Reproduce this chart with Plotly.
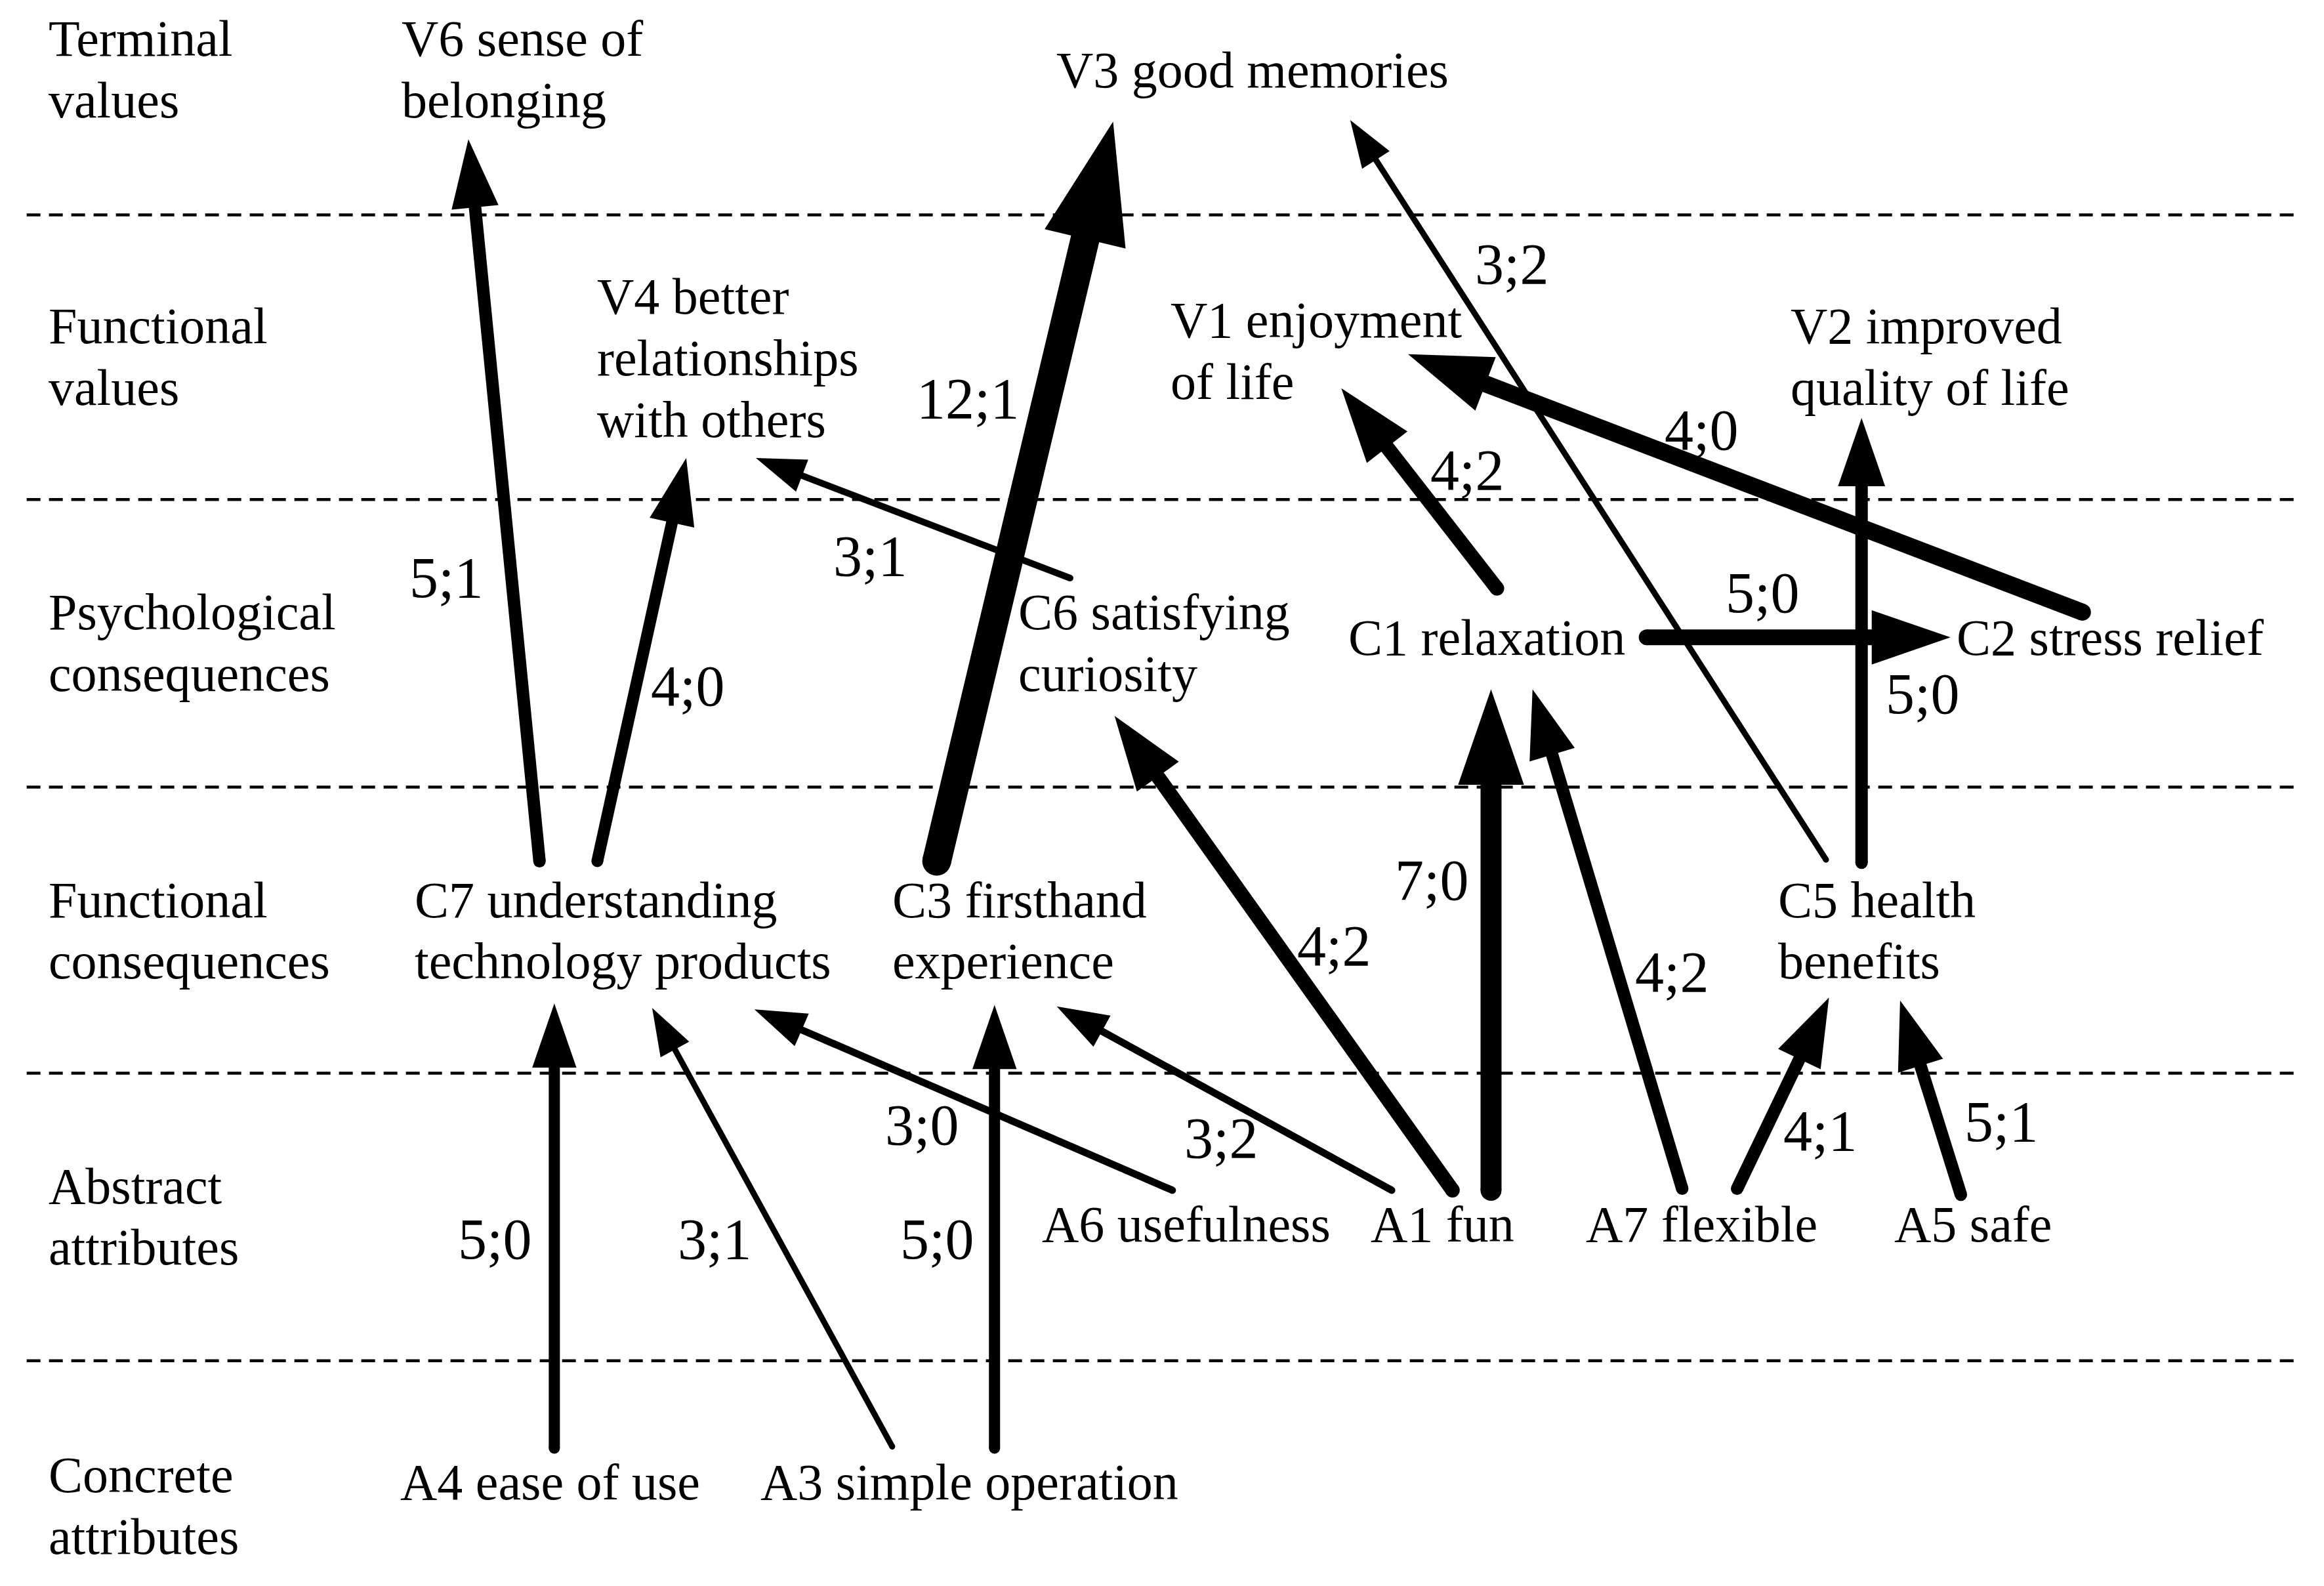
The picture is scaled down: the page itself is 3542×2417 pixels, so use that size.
import math
import plotly.graph_objects as go

# ---------------- data ----------------
level_names = [
    "Terminal\nvalues",
    "Functional\nvalues",
    "Psychological\nconsequences",
    "Functional\nconsequences",
    "Abstract\nattributes",
    "Concrete\nattributes",
]

node_codes = ["V6", "V3", "V4", "V1", "V2",
              "C6", "C1", "C2", "C7", "C3", "C5",
              "A6", "A1", "A7", "A5", "A4", "A3"]
node_names = ["sense of\nbelonging", "good memories",
              "better\nrelationships\nwith others", "enjoyment\nof life",
              "improved\nquality of life",
              "satisfying\ncuriosity", "relaxation", "stress relief",
              "understanding\ntechnology products", "firsthand\nexperience",
              "health\nbenefits",
              "usefulness", "fun", "flexible", "safe",
              "ease of use", "simple operation"]

edge_from = ["C7", "C7", "C3", "C6", "C1", "C2", "C5", "C1", "C5",
             "A1", "A1", "A7", "A6", "A1", "A7", "A5", "A4", "A3", "A3"]
edge_to = ["V6", "V4", "V3", "V4", "V1", "V1", "V3", "C2", "V2",
           "C6", "C1", "C1", "C7", "C3", "C5", "C5", "C7", "C7", "C3"]
direct_links = [5, 4, 12, 3, 4, 4, 3, 5, 5, 4, 7, 4, 3, 3, 4, 5, 5, 3, 5]
indirect_links = [1, 0, 1, 1, 2, 0, 2, 0, 0, 2, 0, 2, 0, 2, 1, 1, 0, 1, 0]

# ---------------- layout (drawing units, 1568 x 1070 canvas) ----------------
W_PX, H_PX = 3542, 2417
XMAX, YMAX = 1568, 1070
SCALE = W_PX / XMAX           # screen px per drawing unit
PAGE_PAD = 8 / SCALE          # body margin of the html page
LINE_GAP = 41.5
FONT = "Liberation Serif"
TEXT_SIZE = 78
LABEL_SIZE = 88

level_pos = [(32, 26), (32, 220), (32, 413), (32, 607), (32, 800), (32, 995)]
tier_lines = [145, 337, 531, 724, 918]

# left edge of text, y of first line
node_pos = {
    "V6": (270, 26), "V3": (712, 47), "V4": (402, 200), "V1": (789, 216),
    "V2": (1207, 220), "C6": (686, 413), "C1": (909, 430), "C2": (1319, 430),
    "C7": (279, 607), "C3": (601, 607), "C5": (1199, 607),
    "A6": (702, 826), "A1": (924, 826), "A7": (1069, 826), "A5": (1277, 826),
    "A4": (269, 1000), "A3": (512, 1000),
}

# tail point, arrow tip, label centre, stroke width (px) for each edge in order
edge_geom = [
    ((364, 581), (316, 94), (301, 390), 19),
    ((403, 581), (463, 309), (464, 463), 18),
    ((632, 581), (751, 82), (653, 269), 44),
    ((722, 390), (510, 309), (587, 375), 10),
    ((1010, 397), (905, 262), (990, 317), 22),
    ((1405, 413), (950, 239), (1148, 290), 26),
    ((1232, 580), (911, 81), (1020, 178), 9),
    ((1111, 430), (1316, 430), (1189, 400), 24),
    ((1256, 582), (1256, 282), (1297, 468), 19),
    ((980, 803), (752, 483), (900, 638), 22),
    ((1006, 803), (1006, 465), (966, 594), 32),
    ((1135, 802), (1034, 465), (1128, 656), 19),
    ((791, 803), (509, 681), (622, 759), 11),
    ((939, 803), (713, 679), (824, 768), 11),
    ((1172, 802), (1234, 673), (1228, 763), 19),
    ((1323, 806), (1282, 675), (1350, 757), 19),
    ((374, 977), (374, 677), (334, 836), 17),
    ((602, 976), (440, 680), (482, 836), 9),
    ((671, 977), (671, 678), (632, 836), 17),
]

fig = go.Figure()

# dashed tier separators
xs, ys = [], []
for y in tier_lines:
    xs += [18, 1550, None]
    ys += [y, y, None]
fig.add_trace(go.Scatter(x=xs, y=ys, mode="lines", hoverinfo="skip",
                         line=dict(color="black", width=4.5, dash="21px,13px")))

# edges
annotations = []
for k in range(len(edge_from)):
    (tx, ty), (hx, hy), (lx, ly), lw = edge_geom[k]
    dx, dy = hx - tx, hy - ty
    d = math.hypot(dx, dy)
    ux, uy = dx / d, dy / d
    nx, ny = -uy, ux
    head_w = (2.2 * lw + 30) / SCALE
    head_l = 1.45 * head_w
    bx, by = hx - head_l * ux, hy - head_l * uy
    ex, ey = hx - 0.75 * head_l * ux, hy - 0.75 * head_l * uy
    fig.add_trace(go.Scatter(x=[tx, ex], y=[ty, ey], mode="lines", hoverinfo="skip",
                             line=dict(color="black", width=lw)))
    fig.add_trace(go.Scatter(x=[tx], y=[ty], mode="markers", hoverinfo="skip",
                             marker=dict(color="black", size=lw, line=dict(width=0))))
    fig.add_trace(go.Scatter(
        x=[hx, bx + nx * head_w / 2, bx - nx * head_w / 2, hx],
        y=[hy, by + ny * head_w / 2, by - ny * head_w / 2, hy],
        mode="lines", fill="toself", fillcolor="black", hoverinfo="skip",
        line=dict(color="black", width=0)))
    annotations.append(dict(
        x=lx, y=ly, text=f"{direct_links[k]};{indirect_links[k]}", showarrow=False,
        xanchor="center", yanchor="middle",
        font=dict(family=FONT, size=LABEL_SIZE, color="black")))


def add_text(x, y0, text):
    for i, line in enumerate(text.split("\n")):
        annotations.append(dict(
            x=x, y=y0 + i * LINE_GAP, text=line, showarrow=False,
            xanchor="left", yanchor="middle",
            font=dict(family=FONT, size=TEXT_SIZE, color="black")))


for (x, y), name in zip(level_pos, level_names):
    add_text(x, y, name)

for code, name in zip(node_codes, node_names):
    x, y = node_pos[code]
    add_text(x, y, code + " " + name)

fig.update_layout(
    width=W_PX, height=H_PX,
    margin=dict(l=0, r=0, t=0, b=0),
    paper_bgcolor="white", plot_bgcolor="white",
    showlegend=False,
    annotations=annotations,
    xaxis=dict(range=[PAGE_PAD, XMAX + PAGE_PAD], visible=False, fixedrange=True),
    yaxis=dict(range=[YMAX + PAGE_PAD, PAGE_PAD], visible=False, fixedrange=True),
)

fig.write_html("out.html")
